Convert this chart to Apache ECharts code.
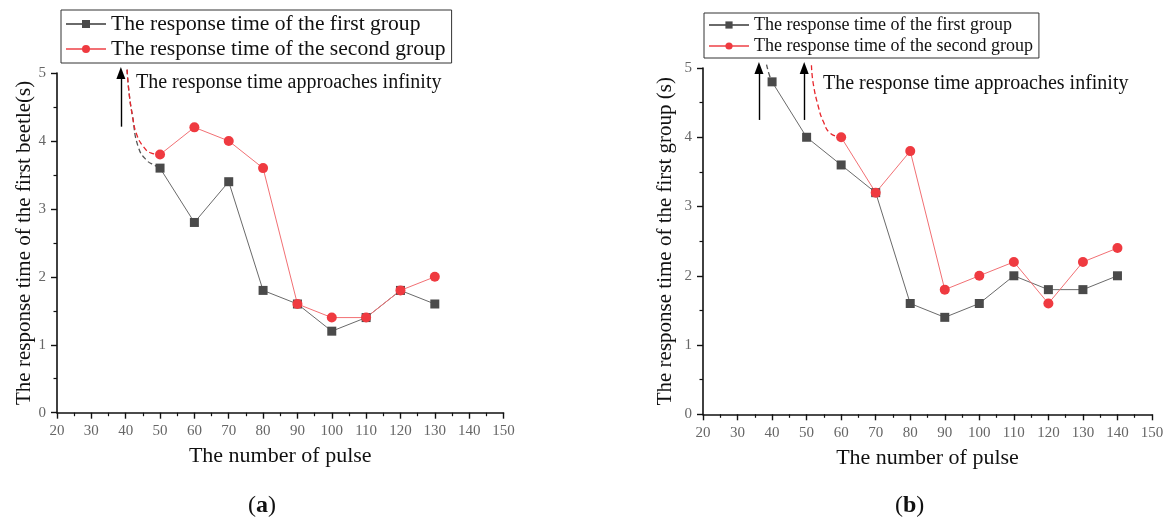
<!DOCTYPE html>
<html>
<head>
<meta charset="utf-8">
<script src="https://cdn.jsdelivr.net/npm/echarts@6/dist/echarts.min.js"></script>
<style>
  html, body { margin: 0; padding: 0; background: #fff; }
  #chart { width: 1169px; height: 525px; }
</style>
</head>
<body>
<div id="chart"></div>
<script>
// Panel (a): response time vs. number of pulses
const pulsesA = [50, 60, 70, 80, 90, 100, 110, 120, 130];
const firstGroupA = [3.6, 2.8, 3.4, 1.8, 1.6, 1.2, 1.4, 1.8, 1.6];
const secondGroupA = [3.8, 4.2, 4.0, 3.6, 1.6, 1.4, 1.4, 1.8, 2.0];
// Asymptotic branches near 40 pulses (x, y pairs)
const firstTailA = [[40.4, 5.05], [41.0, 4.70], [42.0, 4.36], [43.6, 3.92], [46.0, 3.72], [48.5, 3.64], [50, 3.6]];
const secondTailA = [[40.4, 5.05], [41.0, 4.70], [42.0, 4.36], [43.1, 4.11], [45.1, 3.92], [47.5, 3.82], [50, 3.8]];
const arrowsA = [[38.6, 4.21, 5.0]];

// Panel (b)
const pulsesB1 = [40, 50, 60, 70, 80, 90, 100, 110, 120, 130, 140];
const firstGroupB = [4.8, 4.0, 3.6, 3.2, 1.6, 1.4, 1.6, 2.0, 1.8, 1.8, 2.0];
const pulsesB2 = [60, 70, 80, 90, 100, 110, 120, 130, 140];
const secondGroupB = [4.0, 3.2, 3.8, 1.8, 2.0, 2.2, 1.6, 2.2, 2.4];
const firstTailB = [[38.4, 5.05], [39.2, 4.9], [40, 4.8]];
const secondTailB = [[51.4, 5.04], [51.9, 4.78], [53.4, 4.44], [54.8, 4.23], [56.8, 4.06], [60, 4.0]];
const arrowsB = [[36.2, 4.25, 5.0], [49.3, 4.25, 5.0]];

const xTicks = { min: 20, max: 150, interval: 10 };
const yTicks = { min: 0, max: 5, interval: 1 };

const nameFirst = 'The response time of the first group';
const nameSecond = 'The response time of the second group';
const titleYA = 'The response time of the first beetle(s)';
const titleYB = 'The response time of the first group (s)';
const titleX = 'The number of pulse';
const noteText = 'The response time approaches infinity';

const SERIF = '"Liberation Serif", "DejaVu Serif", serif';
const GRAY = '#4a4a4a';
const GRAY_LINE = '#6a6a6a';
const RED = '#ef3a40';
const RED_LINE = '#f27074';

const pair = (xs, ys) => xs.map((x, i) => [x, ys[i]]);

function xAxis(gridIndex) {
  return {
    type: 'value', gridIndex, min: xTicks.min, max: xTicks.max, interval: xTicks.interval,
    name: titleX, nameLocation: 'middle', nameGap: 33,
    nameTextStyle: { fontFamily: SERIF, fontSize: 22, color: '#111' },
    axisLine: { show: true, onZero: false, lineStyle: { color: '#111', width: 1.6 } },
    axisTick: { show: true, length: 6, lineStyle: { color: '#111', width: 1.4 } },
    minorTick: { show: true, splitNumber: 2, length: 3.5, lineStyle: { color: '#111', width: 1.2 } },
    axisLabel: { fontFamily: SERIF, fontSize: 15, color: '#666', margin: 11 },
    splitLine: { show: false }
  };
}
function yAxis(gridIndex, title, gap) {
  return {
    type: 'value', gridIndex, min: yTicks.min, max: yTicks.max, interval: yTicks.interval,
    name: title, nameLocation: 'middle', nameGap: gap,
    nameTextStyle: { fontFamily: SERIF, fontSize: 21, color: '#111' },
    axisLine: { show: true, onZero: false, lineStyle: { color: '#111', width: 1.6 } },
    axisTick: { show: true, length: 6, lineStyle: { color: '#111', width: 1.4 } },
    minorTick: { show: true, splitNumber: 2, length: 3.5, lineStyle: { color: '#111', width: 1.2 } },
    axisLabel: { fontFamily: SERIF, fontSize: 15, color: '#666', margin: 11 },
    splitLine: { show: false }
  };
}
function dataSeries(name, idx, data, color, lineColor, symbol) {
  return {
    name, type: 'line', xAxisIndex: idx, yAxisIndex: idx, data,
    symbol, symbolSize: symbol === 'rect' ? 9 : 10,
    itemStyle: { color },
    lineStyle: { color: lineColor, width: 1 },
    z: 5
  };
}
function tailSeries(idx, data, color, arrows) {
  const s = {
    name: 'tail', type: 'line', xAxisIndex: idx, yAxisIndex: idx, data,
    smooth: 0.5, symbol: 'none', clip: false,
    lineStyle: { color, width: 1.3, type: [5, 3] },
    z: 4
  };
  if (arrows) {
    s.markLine = {
      silent: true, symbol: ['none', 'triangle'], symbolSize: [9, 12],
      label: { show: false },
      lineStyle: { color: '#000', width: 1.4, type: 'solid' },
      data: arrows.map(a => [{ coord: [a[0], a[1]] }, { coord: [a[0], a[2]] }])
    };
  }
  return s;
}

const chart = echarts.init(document.getElementById('chart'), null, { renderer: 'canvas' });
chart.setOption({
  backgroundColor: '#fff',
  animation: false,
  grid: [
    { left: 57, top: 73, width: 446.5, height: 339.7 },
    { left: 703, top: 68, width: 449, height: 346.3 }
  ],
  xAxis: [xAxis(0), xAxis(1)],
  yAxis: [yAxis(0, titleYA, 22), yAxis(1, titleYB, 27)],
  legend: [
    {
      data: [nameFirst, nameSecond], orient: 'vertical', left: 61, top: 10,
      itemWidth: 40, itemHeight: 10, itemGap: 3,
      padding: [3, 6, 3, 4], borderColor: '#333', borderWidth: 1,
      textStyle: { fontFamily: SERIF, fontSize: 21.6, color: '#111' },
      seriesIndex: [0, 1]
    },
    {
      data: [nameFirst, nameSecond], orient: 'vertical', left: 704, top: 13,
      itemWidth: 40, itemHeight: 9, itemGap: 3,
      padding: [3, 6, 3, 4], borderColor: '#333', borderWidth: 1,
      textStyle: { fontFamily: SERIF, fontSize: 18, color: '#111' }
    }
  ],
  title: [
    { text: noteText, left: 131, top: 68, textStyle: { fontFamily: SERIF, fontSize: 20, fontWeight: 'normal', color: '#111' } },
    { text: noteText, left: 818, top: 69, textStyle: { fontFamily: SERIF, fontSize: 20, fontWeight: 'normal', color: '#111' } },
    { text: '({b|a})', left: 243, top: 489, textStyle: { fontFamily: SERIF, fontSize: 24, fontWeight: 'normal', color: '#111', rich: { b: { fontFamily: SERIF, fontSize: 24, fontWeight: 'bold', color: '#111' } } } },
    { text: '({b|b})', left: 890, top: 489, textStyle: { fontFamily: SERIF, fontSize: 24, fontWeight: 'normal', color: '#111', rich: { b: { fontFamily: SERIF, fontSize: 24, fontWeight: 'bold', color: '#111' } } } }
  ],
  series: [
    dataSeries(nameFirst, 0, pair(pulsesA, firstGroupA), GRAY, GRAY_LINE, 'rect'),
    dataSeries(nameSecond, 0, pair(pulsesA, secondGroupA), RED, RED_LINE, 'circle'),
    tailSeries(0, firstTailA, '#555', arrowsA),
    tailSeries(0, secondTailA, '#e8262c', null),
    dataSeries(nameFirst, 1, pair(pulsesB1, firstGroupB), GRAY, GRAY_LINE, 'rect'),
    dataSeries(nameSecond, 1, pair(pulsesB2, secondGroupB), RED, RED_LINE, 'circle'),
    tailSeries(1, firstTailB, '#555', arrowsB),
    tailSeries(1, secondTailB, '#e8262c', null)
  ]
});
</script>
</body>
</html>
